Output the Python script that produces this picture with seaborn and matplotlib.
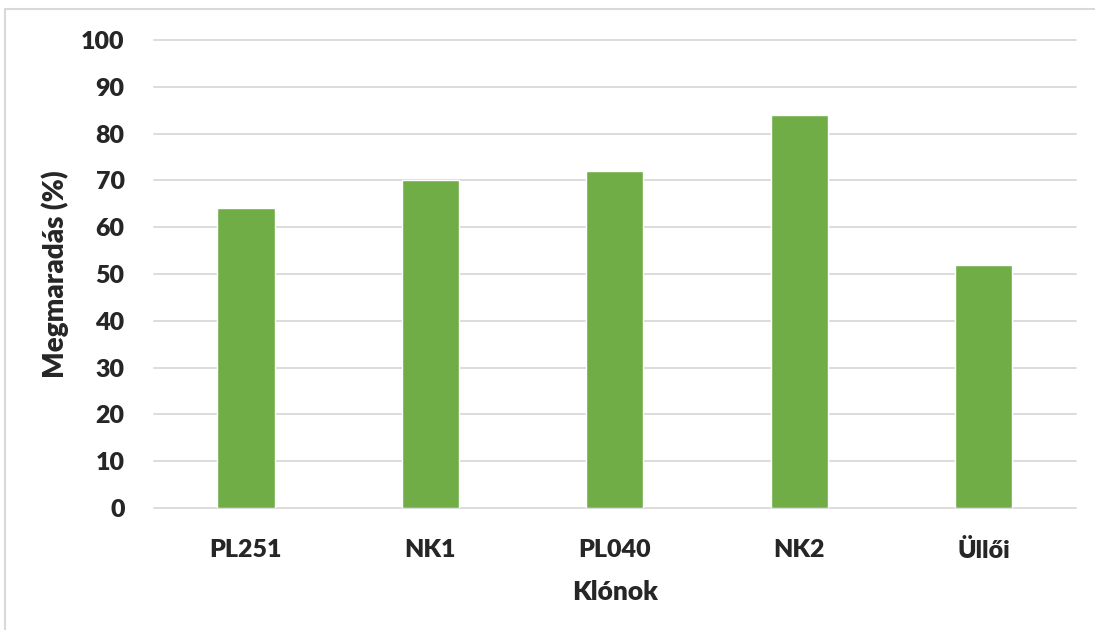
import matplotlib
matplotlib.use('Agg')
import matplotlib.pyplot as plt
import seaborn as sns
import pandas as pd
from matplotlib.patches import Rectangle

# adatok
klonok = ['PL251', 'NK1', 'PL040', 'NK2', 'Üllői']
megmaradas = [64, 70, 72, 84, 52]
yticks = list(range(0, 101, 10))

sns.set_style('white')
plt.rcParams['font.family'] = ['Lato', 'DejaVu Sans']

df = pd.DataFrame({'Klónok': klonok, 'Megmaradás': megmaradas})

fig = plt.figure(figsize=(10.95, 6.3), dpi=100)
ax = fig.add_axes([0.1404, 0.1937, 0.8422, 0.7428])

sns.barplot(data=df, x='Klónok', y='Megmaradás', color='#70AD47',
            saturation=1, width=0.31, ax=ax, zorder=3)

ax.set_ylim(0, 100)
ax.set_yticks(yticks)
ax.grid(axis='y', color='#d9d9d9', linewidth=1.3, zorder=0)
for gl in ax.get_ygridlines():
    gl.set_clip_on(False)
sns.despine(ax=ax, left=True, bottom=True)

ax.tick_params(axis='both', length=0, labelsize=18)
ax.tick_params(axis='y', pad=21)
ax.tick_params(axis='x', pad=22)
for lbl in ax.get_xticklabels() + ax.get_yticklabels():
    lbl.set_fontweight('heavy')

ax.set_xlabel('Klónok', fontsize=19, fontweight='heavy', labelpad=13)
ax.set_ylabel('Megmaradás (%)', fontsize=20, fontweight='heavy', labelpad=9)

# a diagram kerete
fig.patches.append(Rectangle((5 / 1095, -0.01), 1.02, 1 - 9 / 630 + 0.01,
                             transform=fig.transFigure, fill=False,
                             edgecolor='#d9d9d9', linewidth=1.5))

plt.savefig('out.png', dpi=100)
plt.close()
